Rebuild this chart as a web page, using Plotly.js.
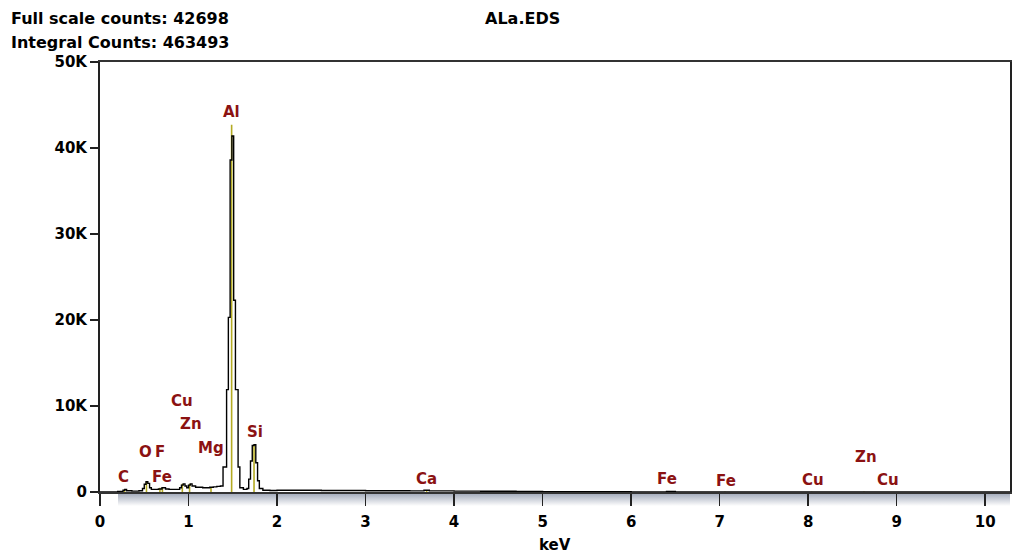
<!DOCTYPE html>
<html>
<head>
<meta charset="utf-8">
<script src="https://cdn.plot.ly/plotly-3.0.1.min.js"></script>
<style>html,body{margin:0;padding:0;background:#fff;}#chart{width:1012px;height:553px;}</style>
</head>
<body>
<div id="chart"></div>
<script>
// Spectrum (keV, counts) - stepped channels
var energy = [0.00,0.20,0.26,0.28,0.30,0.36,0.44,0.48,0.50,0.52,0.54,0.56,0.58,0.62,0.66,0.70,0.74,0.78,0.84,0.90,0.92,0.94,0.96,0.98,1.00,1.02,1.04,1.08,1.16,1.24,1.28,1.32,1.36,1.39,1.43,1.45,1.47,1.49,1.51,1.53,1.56,1.58,1.62,1.66,1.68,1.70,1.72,1.74,1.76,1.78,1.80,1.84,1.92,2.00,2.50,3.00,3.50,3.66,3.72,4.00,4.30,4.70,5.00,6.00,6.40,6.50,7.00,8.00,9.00,10.28];
var counts = [0,50,200,300,150,100,150,400,900,1200,1000,500,300,300,350,500,350,300,300,500,800,950,700,500,800,950,700,550,500,550,600,650,700,2900,11900,20300,38600,41400,22300,11900,2900,500,300,400,1500,3600,5400,5500,3400,1300,400,200,180,200,180,150,130,200,130,100,80,50,30,20,50,20,15,20,15,10];

// Element marker lines
var markerE = [0.277,0.525,0.677,0.705,0.930,1.012,1.254,1.487,1.740,3.690,6.400,7.060,8.040,8.630,8.900];
var markerH = [300,1200,500,500,950,950,550,42698,5500,200,60,20,20,20,15];

// Element labels
var labelText = ["C","O","F","Fe","Cu","Zn","Mg","Al","Si","Ca","Fe","Fe","Cu","Zn","Cu"];
var labelE    = [0.27,0.51,0.68,0.70,0.93,1.03,1.25,1.49,1.75,3.69,6.40,7.07,8.06,8.65,8.90];
var labelY    = [1700,4700,4700,1800,10600,7900,5100,44200,7000,1500,1500,1300,1400,4100,1400];

var yTickVals = [0,10000,20000,30000,40000,50000];
var yTickText = ["0","10K","20K","30K","40K","50K"];

var fullScale = 42698;
var integral = 463493;
var fileName = "ALa.EDS";

var mx = [], my = [];
for (var i = 0; i < markerE.length; i++) {
  mx.push(markerE[i], markerE[i], null);
  my.push(0, markerH[i], null);
}

var FONT = "DejaVu Sans, Verdana, sans-serif";
var LBL = "#8b1212";

var annotations = [];
for (var j = 0; j < labelText.length; j++) {
  annotations.push({x: labelE[j], y: labelY[j], xref: "x", yref: "y", text: "<b>" + labelText[j] + "</b>",
    showarrow: false, xanchor: "center", yanchor: "middle",
    font: {family: FONT, size: 15, color: LBL}});
}
annotations.push({xref: "paper", yref: "paper", x: -0.0995, y: 1.102, xanchor: "left", yanchor: "middle",
  text: "<b>Full scale counts: " + fullScale + "</b>", showarrow: false, font: {family: FONT, size: 16, color: "#000"}});
annotations.push({xref: "paper", yref: "paper", x: -0.0995, y: 1.0465, xanchor: "left", yanchor: "middle",
  text: "<b>Integral Counts: " + integral + "</b>", showarrow: false, font: {family: FONT, size: 16, color: "#000"}});
annotations.push({xref: "paper", yref: "paper", x: (522 - 100) / 910, y: 1.102, xanchor: "center", yanchor: "middle",
  text: "<b>" + fileName + "</b>", showarrow: false, font: {family: FONT, size: 16, color: "#000"}});
annotations.push({xref: "paper", yref: "paper", x: (555 - 100) / 910, y: -(545 - 492) / 430, xanchor: "center", yanchor: "middle",
  text: "<b>keV</b>", showarrow: false, font: {family: FONT, size: 15, color: "#000"}});

var gradSvg = '<svg xmlns="http://www.w3.org/2000/svg" width="100" height="20" preserveAspectRatio="none"><defs><linearGradient id="g" x1="0" y1="0" x2="0" y2="1"><stop offset="0" stop-color="#98a1b3"/><stop offset="1" stop-color="#ffffff"/></linearGradient></defs><rect width="100" height="20" fill="url(#g)"/></svg>';
var gradSvgH = '<svg xmlns="http://www.w3.org/2000/svg" width="20" height="100" preserveAspectRatio="none"><defs><linearGradient id="g" x1="0" y1="0" x2="1" y2="0"><stop offset="0" stop-color="#98a1b3"/><stop offset="1" stop-color="#ffffff"/></linearGradient></defs><rect width="20" height="100" fill="url(#g)"/></svg>';

var traces = [
  {x: mx, y: my, type: "scatter", mode: "lines", line: {color: "#b3aa22", width: 1.6}, hoverinfo: "skip", showlegend: false},
  {x: energy, y: counts, type: "scatter", mode: "lines", line: {color: "#000", width: 1.4, shape: "hv"}, showlegend: false}
];

var layout = {
  width: 1012, height: 553,
  margin: {l: 100, r: 2, t: 62, b: 61},
  paper_bgcolor: "#fff", plot_bgcolor: "#fff",
  showlegend: false,
  xaxis: {
    range: [0, 10.28], tickmode: "array", tickvals: [0,1,2,3,4,5,6,7,8,9,10],
    ticks: "outside", ticklen: 12, tickwidth: 1.5, tickcolor: "#222",
    showgrid: false, zeroline: false, showline: true, linecolor: "#333", linewidth: 2, mirror: true,
    tickfont: {family: FONT, size: 15, color: "#000", weight: "bold"},
    ticklabelstandoff: 3,
    automargin: false
  },
  yaxis: {
    range: [0, 50000], tickmode: "array", tickvals: yTickVals, ticktext: yTickText,
    ticks: "outside", ticklen: 8, tickwidth: 1.5, tickcolor: "#222",
    showgrid: false, zeroline: false, showline: true, linecolor: "#222", linewidth: 2, mirror: true,
    tickfont: {family: FONT, size: 15, color: "#000", weight: "bold"},
    automargin: false
  },
  images: [
    {source: "data:image/svg+xml;utf8," + encodeURIComponent(gradSvg), xref: "paper", yref: "paper",
     x: 18 / 910, y: 0, sizex: 892 / 910, sizey: 14 / 430, sizing: "stretch", xanchor: "left", yanchor: "top", layer: "below"},
    {source: "data:image/svg+xml;utf8," + encodeURIComponent(gradSvgH), xref: "paper", yref: "paper",
     x: 1, y: 0.98, sizex: 2 / 910, sizey: 0.98, sizing: "stretch", xanchor: "left", yanchor: "top", layer: "below"}
  ],
  annotations: annotations
};

Plotly.newPlot("chart", traces, layout, {displayModeBar: false, staticPlot: true});
</script>
</body>
</html>
